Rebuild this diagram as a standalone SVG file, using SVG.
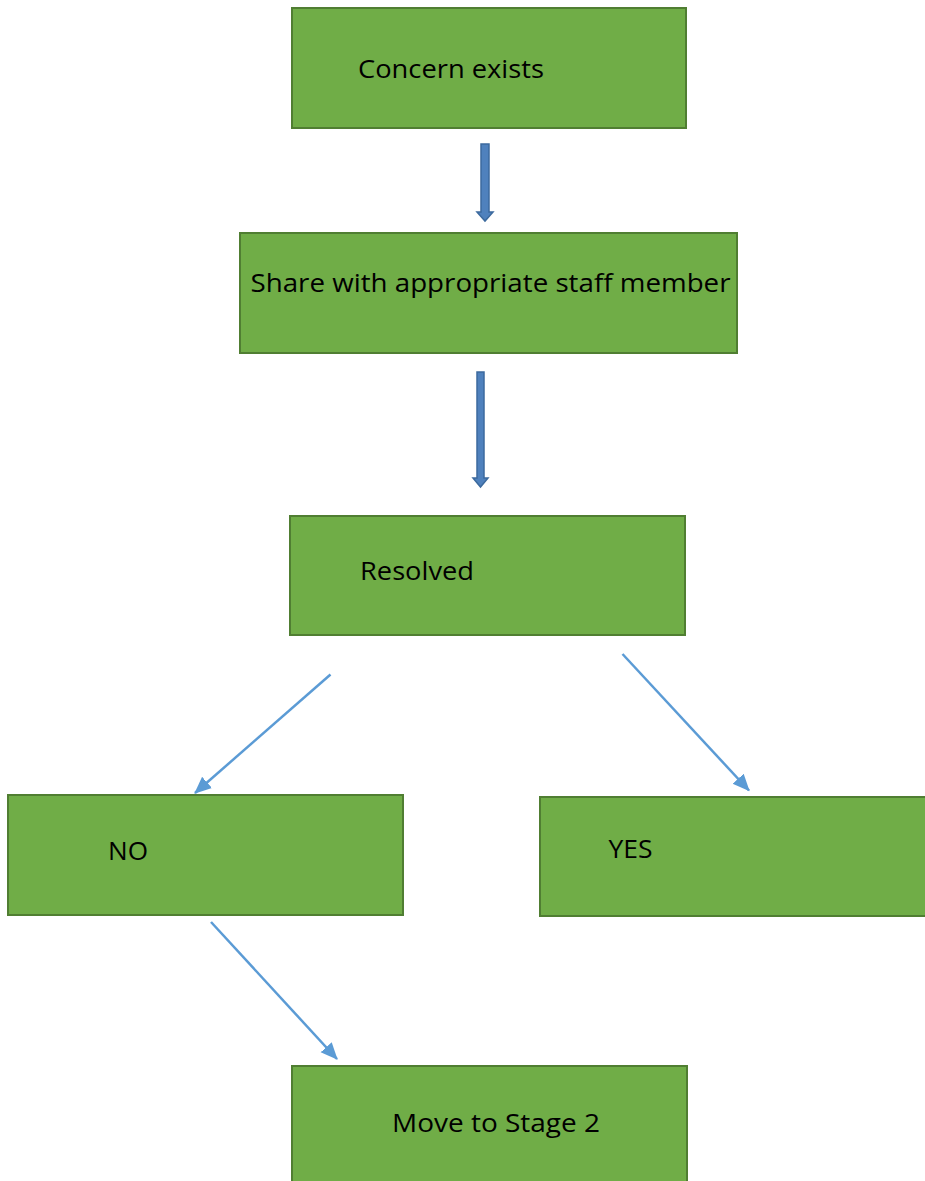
<svg xmlns="http://www.w3.org/2000/svg" width="925" height="1181" viewBox="0 0 925 1181">
<style>
.box{fill:#70AD47;stroke:#507E32;stroke-width:2}
.lbl{font-family:"Open Sans","Liberation Sans",sans-serif;font-size:26px;fill:#000}
.conn{stroke:#5B9BD5;stroke-width:2.5;fill:none}
.block{fill:#4F81BD;stroke:#3C6A9E;stroke-width:1.5}
</style>
<defs>
<marker id="ah" markerUnits="userSpaceOnUse" markerWidth="20" markerHeight="16" refX="16" refY="7.5" orient="auto">
<path d="M0,0 L17,7.5 L0,15 z" fill="#5B9BD5"/>
</marker>
</defs>
<rect width="925" height="1181" fill="#fff"/>
<g id="connectors">
<path class="block" d="M481,144 L489,144 L489,212 L493,212 L485,221 L477,212 L481,212 z"/>
<path class="block" d="M477,372 L484,372 L484,478 L488,478 L480.5,487 L473,478 L477,478 z"/>
<line class="conn" x1="330.5" y1="674.5" x2="195" y2="793" marker-end="url(#ah)"/>
<line class="conn" x1="622.5" y1="654" x2="749" y2="790.5" marker-end="url(#ah)"/>
<line class="conn" x1="211" y1="922" x2="337" y2="1059" marker-end="url(#ah)"/>
</g>
<g id="concern">
<rect class="box" x="292" y="8" width="394" height="120"/>
<text class="lbl" x="358" y="78" textLength="186" lengthAdjust="spacingAndGlyphs">Concern exists</text>
</g>
<g id="share">
<rect class="box" x="240" y="233" width="497" height="120"/>
<text class="lbl" x="250.5" y="292" textLength="480" lengthAdjust="spacingAndGlyphs">Share with appropriate staff member</text>
</g>
<g id="resolved">
<rect class="box" x="290" y="516" width="395" height="119"/>
<text class="lbl" x="360" y="580" textLength="114" lengthAdjust="spacingAndGlyphs">Resolved</text>
</g>
<g id="no">
<rect class="box" x="8" y="795" width="395" height="120"/>
<text class="lbl" x="108" y="860" textLength="40" lengthAdjust="spacingAndGlyphs">NO</text>
</g>
<g id="yes">
<rect class="box" x="540" y="797" width="395" height="119"/>
<text class="lbl" x="608.5" y="858" textLength="44" lengthAdjust="spacingAndGlyphs">YES</text>
</g>
<g id="stage2">
<rect class="box" x="292" y="1066" width="395" height="120"/>
<text class="lbl" x="392" y="1132" textLength="208" lengthAdjust="spacingAndGlyphs">Move to Stage 2</text>
</g>
</svg>
